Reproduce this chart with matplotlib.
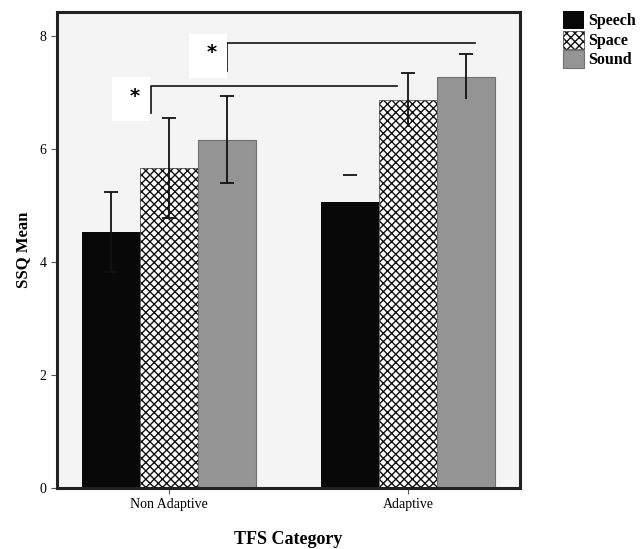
import matplotlib
matplotlib.use("Agg")
import matplotlib.pyplot as plt
from matplotlib.patches import Rectangle
import numpy as np

categories = ["Non Adaptive", "Adaptive"]
series = ["Speech", "Space", "Sound"]
means = {"Speech": [4.53, 5.06], "Space": [5.66, 6.87], "Sound": [6.16, 7.27]}
upper = {"Speech": [5.24, 5.54], "Space": [6.55, 7.35], "Sound": [6.94, 7.68]}
lower = {"Speech": [3.82, 4.58], "Space": [4.78, 6.39], "Sound": [5.40, 6.88]}
yticks = [0, 2, 4, 6, 8]

plt.rcParams['font.family'] = ['Liberation Serif', 'DejaVu Serif']
fig = plt.figure(figsize=(6.4, 5.49), dpi=100)
ax = fig.add_axes([0.089, 0.111, 0.7235, 0.867])
ax.set_facecolor('#f4f4f4')

styles = {
    "Speech": dict(facecolor='#080808', edgecolor='#080808', hatch=None, lw=0.0),
    "Space": dict(facecolor='white', edgecolor='#111111', hatch='xxxx', lw=0.4),
    "Sound": dict(facecolor='#949494', edgecolor='#707070', hatch=None, lw=0.8),
}
w = 0.243
x = np.arange(len(categories))
handles = []
cap_half = 0.03
for i, s in enumerate(series):
    pos = x + (i - 1) * w
    st = styles[s]
    b = ax.bar(pos, means[s], width=w, color=st['facecolor'], edgecolor=st['edgecolor'],
               hatch=st['hatch'], linewidth=st['lw'], zorder=2)
    handles.append(b)
    for j in range(len(categories)):
        m = means[s][j]
        up = upper[s][j]
        lo = lower[s][j]
        px = pos[j]
        kw = dict(color='#111111', lw=1.3, zorder=3, solid_capstyle='butt')
        if s == "Speech" and j == 1:
            # only the cap is visible in the reference
            ax.plot([px - cap_half, px + cap_half], [up, up], **kw)
            continue
        ax.plot([px, px], [lo, up], **kw)
        ax.plot([px - cap_half, px + cap_half], [up, up], **kw)
        if j == 0:
            ax.plot([px - cap_half, px + cap_half], [lo, lo], **kw)

# significance brackets
def bracket(x0, x1, y, ydrop, box):
    ax.plot([x0, x0, x1], [ydrop, y, y], color='#111111', lw=1.2, zorder=4, clip_on=False)
    bx0, bx1, by0, by1 = box
    ax.add_patch(Rectangle((bx0, by0), bx1 - bx0, by1 - by0, facecolor='white',
                           edgecolor='none', zorder=4))
    ax.text((bx0 + bx1) / 2 + 0.015, (by0 + by1) / 2 + 0.05, '*', ha='center', va='center',
            fontsize=14, fontweight='bold', family='DejaVu Sans', zorder=5)

bracket(-0.075, 0.954, 7.11, 6.64, (-0.238, -0.079, 6.49, 7.27))
bracket(0.243, 1.28, 7.88, 7.38, (0.084, 0.243, 7.26, 8.04))

ax.set_xlim(-0.469, 1.469)
ax.set_ylim(0, 8.42)
ax.set_yticks(yticks)
ax.set_yticklabels([str(t) for t in yticks], fontsize=10)
ax.set_xticks(x)
ax.set_xticklabels(categories, fontsize=10)
ax.tick_params(axis='both', length=4, width=0.8, color='#555555')
for sp in ax.spines.values():
    sp.set_linewidth(2.2)
    sp.set_color('#222222')
ax.set_ylabel('SSQ Mean', fontsize=12, fontweight='bold', labelpad=6)
ax.set_xlabel('TFS Category', fontsize=13, fontweight='bold', labelpad=14)

fig.legend(handles, series, loc='upper left', bbox_to_anchor=(563 / 640, 1 - 11 / 549),
           frameon=False, handlelength=1.3, handleheight=1.35,
           handletextpad=0.25, labelspacing=0.08, borderaxespad=0, borderpad=0,
           prop={'weight': 'bold', 'size': 11.5})

fig.savefig('out.png', dpi=100)
